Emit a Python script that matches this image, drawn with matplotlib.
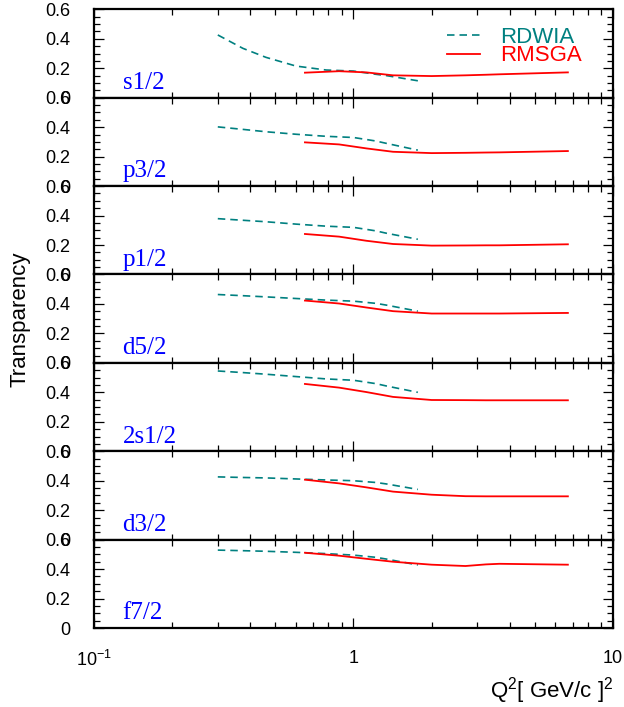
import matplotlib
matplotlib.use("Agg")
import matplotlib.pyplot as plt
from matplotlib.ticker import MultipleLocator, LogLocator, NullFormatter

plt.rcParams["font.family"] = ["Liberation Sans", "DejaVu Sans"]
plt.rcParams["mathtext.fontset"] = "custom"
plt.rcParams["mathtext.rm"] = "Liberation Sans"
plt.rcParams["mathtext.it"] = "Liberation Sans:italic"
plt.rcParams["mathtext.bf"] = "Liberation Sans:bold"

# orbitals, top to bottom
states = ["s1/2", "p3/2", "p1/2", "d5/2", "2s1/2", "d3/2", "f7/2"]

# RDWIA (dashed), Q^2 in (GeV/c)^2
q2_rdwia = [0.3, 0.375, 0.46, 0.6, 0.785, 1.0, 1.22, 1.34, 1.77]
rdwia_s12 = [0.426, 0.335, 0.274, 0.215, 0.188, 0.181, 0.159, 0.150, 0.115]
rdwia_p32 = [0.402, 0.385, 0.369, 0.352, 0.338, 0.330, 0.306, 0.290, 0.244]
rdwia_p12 = [0.379, 0.368, 0.358, 0.342, 0.328, 0.320, 0.296, 0.280, 0.239]
rdwia_d52 = [0.464, 0.456, 0.448, 0.437, 0.426, 0.419, 0.404, 0.392, 0.351]
rdwia_2s12 = [0.545, 0.534, 0.523, 0.507, 0.491, 0.482, 0.459, 0.443, 0.400]
rdwia_d32 = [0.426, 0.422, 0.419, 0.412, 0.405, 0.400, 0.388, 0.378, 0.341]
rdwia_f72 = [0.529, 0.525, 0.521, 0.514, 0.505, 0.495, 0.480, 0.468, 0.428]

# RMSGA (solid)
q2_rmsga = [0.65, 0.88, 1.12, 1.42, 2.0, 2.7, 3.24, 3.65, 6.7]
rmsga_s12 = [0.170, 0.180, 0.172, 0.152, 0.147, 0.152, 0.156, 0.159, 0.172]
rmsga_p32 = [0.297, 0.283, 0.256, 0.233, 0.224, 0.226, 0.228, 0.229, 0.238]
rmsga_p12 = [0.275, 0.257, 0.229, 0.207, 0.196, 0.197, 0.198, 0.198, 0.205]
rmsga_d52 = [0.423, 0.403, 0.376, 0.351, 0.335, 0.335, 0.335, 0.335, 0.339]
rmsga_2s12 = [0.457, 0.432, 0.402, 0.369, 0.348, 0.347, 0.346, 0.346, 0.346]
rmsga_d32 = [0.407, 0.382, 0.355, 0.326, 0.305, 0.295, 0.294, 0.294, 0.294]
rmsga_f72 = [0.511, 0.491, 0.470, 0.450, 0.430, 0.421, 0.432, 0.436, 0.430]

rdwia_all = [rdwia_s12, rdwia_p32, rdwia_p12, rdwia_d52, rdwia_2s12, rdwia_d32, rdwia_f72]
rmsga_all = [rmsga_s12, rmsga_p32, rmsga_p12, rmsga_d52, rmsga_2s12, rmsga_d32, rmsga_f72]

teal = "#008080"
red = "#ff0000"

fig, axes = plt.subplots(7, 1, sharex=True, figsize=(6.24, 7.07), dpi=100)
fig.subplots_adjust(left=0.1506, right=0.9824, top=0.9868, bottom=0.1117, hspace=0)

for ax, name, yd, ym in zip(axes, states, rdwia_all, rmsga_all):
    ax.plot(q2_rdwia, yd, color=teal, lw=1.2, dashes=(4.5, 3), label="RDWIA")
    ax.plot(q2_rmsga, ym, color=red, lw=1.3, label="RMSGA")

    ax.set_xscale("log")
    ax.set_xlim(0.1, 10)
    ax.set_ylim(0, 0.6)
    ax.set_yticks([0, 0.2, 0.4, 0.6])
    ax.set_yticklabels(["0", "0.2", "0.4", "0.6"])
    ax.yaxis.set_minor_locator(MultipleLocator(0.05))
    ax.xaxis.set_minor_locator(LogLocator(base=10, subs=range(2, 10)))
    ax.xaxis.set_minor_formatter(NullFormatter())

    ax.tick_params(which="both", direction="in", top=True, right=True, width=0.9)
    ax.tick_params(which="major", length=7.2)
    ax.tick_params(which="minor", length=4.3)
    ax.tick_params(axis="y", labelsize=13, pad=17)
    ax.tick_params(axis="x", labelsize=13, pad=16)
    for sp in ax.spines.values():
        sp.set_linewidth(1.6)

    ax.text(0.055, 0.098, name, transform=ax.transAxes, color="#0000ff",
            fontsize=18, family=["Liberation Serif"], va="baseline")

axes[-1].set_xticks([0.1, 1, 10])
axes[-1].set_xticklabels([r"$\mathregular{10^{-1}}$", "1", "10"])

axes[0].legend(loc="upper left", bbox_to_anchor=(0.68, 0.80), frameon=False,
               fontsize=16, handlelength=1.5, handletextpad=0.9,
               labelspacing=-0.12, borderpad=0, borderaxespad=0,
               labelcolor="linecolor")

fig.text(0.032, 0.549, "Transparency", rotation=90, fontsize=16,
         ha="center", va="center")
fig.text(0.9824, 0.0141, r"Q$^2$[ GeV/c ]$^2$", fontsize=16,
         ha="right", va="baseline")

fig.savefig("out.png", dpi=100)
